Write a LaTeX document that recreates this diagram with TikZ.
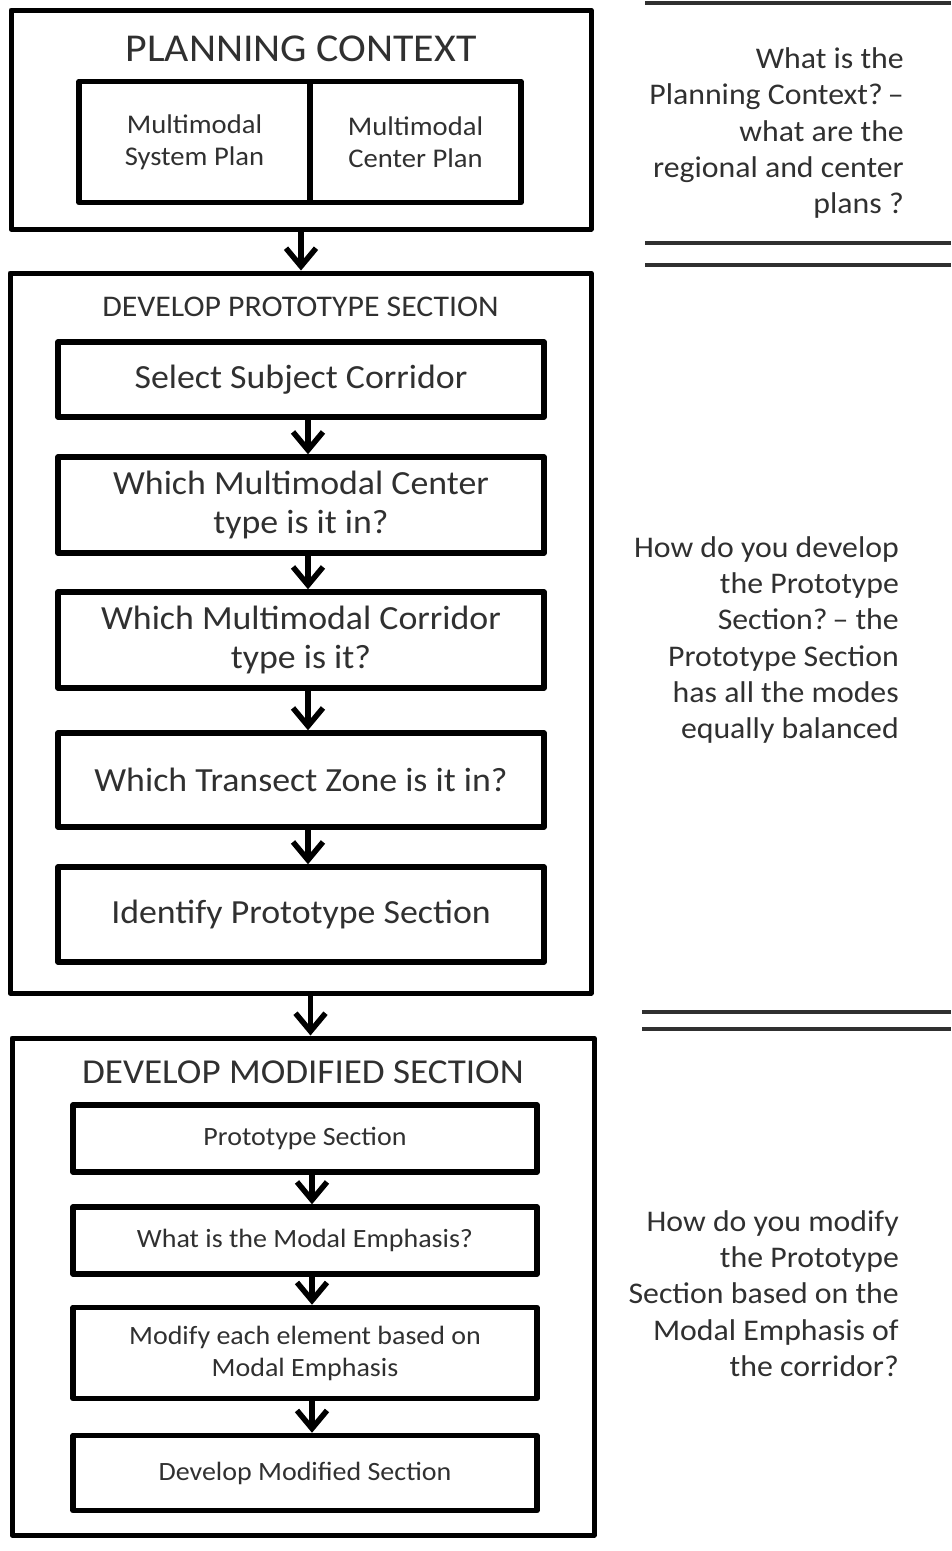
\documentclass[tikz,border=0pt]{standalone}
\usepackage{fontspec}
\setmainfont{Carlito}[FakeStretch=1.06]
\usepackage{tikz}
\usetikzlibrary{arrows.meta,positioning}
\definecolor{inkgray}{RGB}{48,48,48}

\begin{document}
\begin{tikzpicture}
  [x=1pt,y=-1pt,line join=round,
   every node/.style={inner sep=0pt,text=inkgray},
   outerbox/.style={draw=black,line width=5pt},
   innerbox/.style={draw=black,line width=5.5pt,align=center},
   flow/.style={line width=5.5pt,-{Straight Barb[length=18pt,width=30pt]}},
   rule/.style={draw=inkgray,line width=3.5pt},
   note/.style={anchor=east,align=right,font=\fontsize{30}{36.3}\selectfont}]
  \useasboundingbox (0,0) rectangle (951,1551);

  % planning context
  \node[outerbox,minimum width=580pt,minimum height=219pt] (pc) at (301,119.5) {};
  \node[font=\fontsize{39.5}{44}\selectfont] (pct) at (301,49) {PLANNING CONTEXT};
  \node[innerbox,minimum width=231pt,minimum height=121pt,font=\fontsize{27}{32}\selectfont] (msp) at (194.5,142) {Multimodal\\System Plan};
  \node[innerbox,minimum width=211pt,minimum height=121pt,font=\fontsize{27}{32}\selectfont] (mcp) at (415.5,142) {Multimodal\\Center Plan};

  % prototype section
  \node[outerbox,minimum width=581pt,minimum height=720pt] (dps) at (300.5,633) {};
  \node[font=\fontsize{30}{34}\selectfont] (dpst) at (300.5,307) {DEVELOP PROTOTYPE SECTION};
  \begin{scope}[every node/.append style={innerbox,minimum width=486pt,font=\fontsize{33.8}{39}\selectfont}]
    \node[minimum height=75pt] (b1) at (301,379.5) {Select Subject Corridor};
    \node[minimum height=96pt] (b2) at (301,505) {Which Multimodal Center\\type is it in?};
    \node[minimum height=96pt] (b3) at (301,640) {Which Multimodal Corridor\\type is it?};
    \node[minimum height=94pt] (b4) at (301,780) {Which Transect Zone is it in?};
    \node[minimum height=95pt] (b5) at (301,914.5) {Identify Prototype Section};
  \end{scope}

  % modified section
  \node[outerbox,minimum width=582pt,minimum height=497pt] (dms) at (303,1286.5) {};
  \node[font=\fontsize{35}{40}\selectfont] (dmst) at (303,1072) {DEVELOP MODIFIED SECTION};
  \begin{scope}[every node/.append style={innerbox,minimum width=464pt,font=\fontsize{26.4}{32}\selectfont}]
    \node[minimum height=67pt] (c1) at (305,1138.5) {Prototype Section};
    \node[minimum height=67pt] (c2) at (305,1240.5) {What is the Modal Emphasis?};
    \node[minimum height=91pt] (c3) at (305,1353) {Modify each element based on\\Modal Emphasis};
    \node[minimum height=75pt] (c4) at (305,1473) {Develop Modified Section};
  \end{scope}

  \foreach \from/\to/\dx in {pc/dps/0,dps/dms/10,b1/b2/7,b2/b3/7,b3/b4/7,b4/b5/7,
    c1/c2/7,c2/c3/7,c3/c4/7}
    \draw[flow] ([xshift=\dx pt]\from.south) -- ([xshift=\dx pt]\from.south |- \to.north);

  % questions
  \node[note] (q1) at (904,133) {What is the\\Planning Context?\,--\\what are the\\regional and center\\plans ?};
  \node[note] (q2) at (899,640) {How do you develop\\the Prototype\\Section?\,-- the\\Prototype Section\\has all the modes\\equally balanced};
  \node[note] (q3) at (899,1293.5) {How do you modify\\the Prototype\\Section based on the\\Modal Emphasis of\\the corridor?};

  \draw[rule] (645,3) -- (951,3);
  \draw[rule] (645,243) -- (951,243);
  \draw[rule] (645,265) -- (951,265);
  \draw[rule] (642,1012) -- (951,1012);
  \draw[rule] (642,1029) -- (951,1029);
\end{tikzpicture}
\end{document}
